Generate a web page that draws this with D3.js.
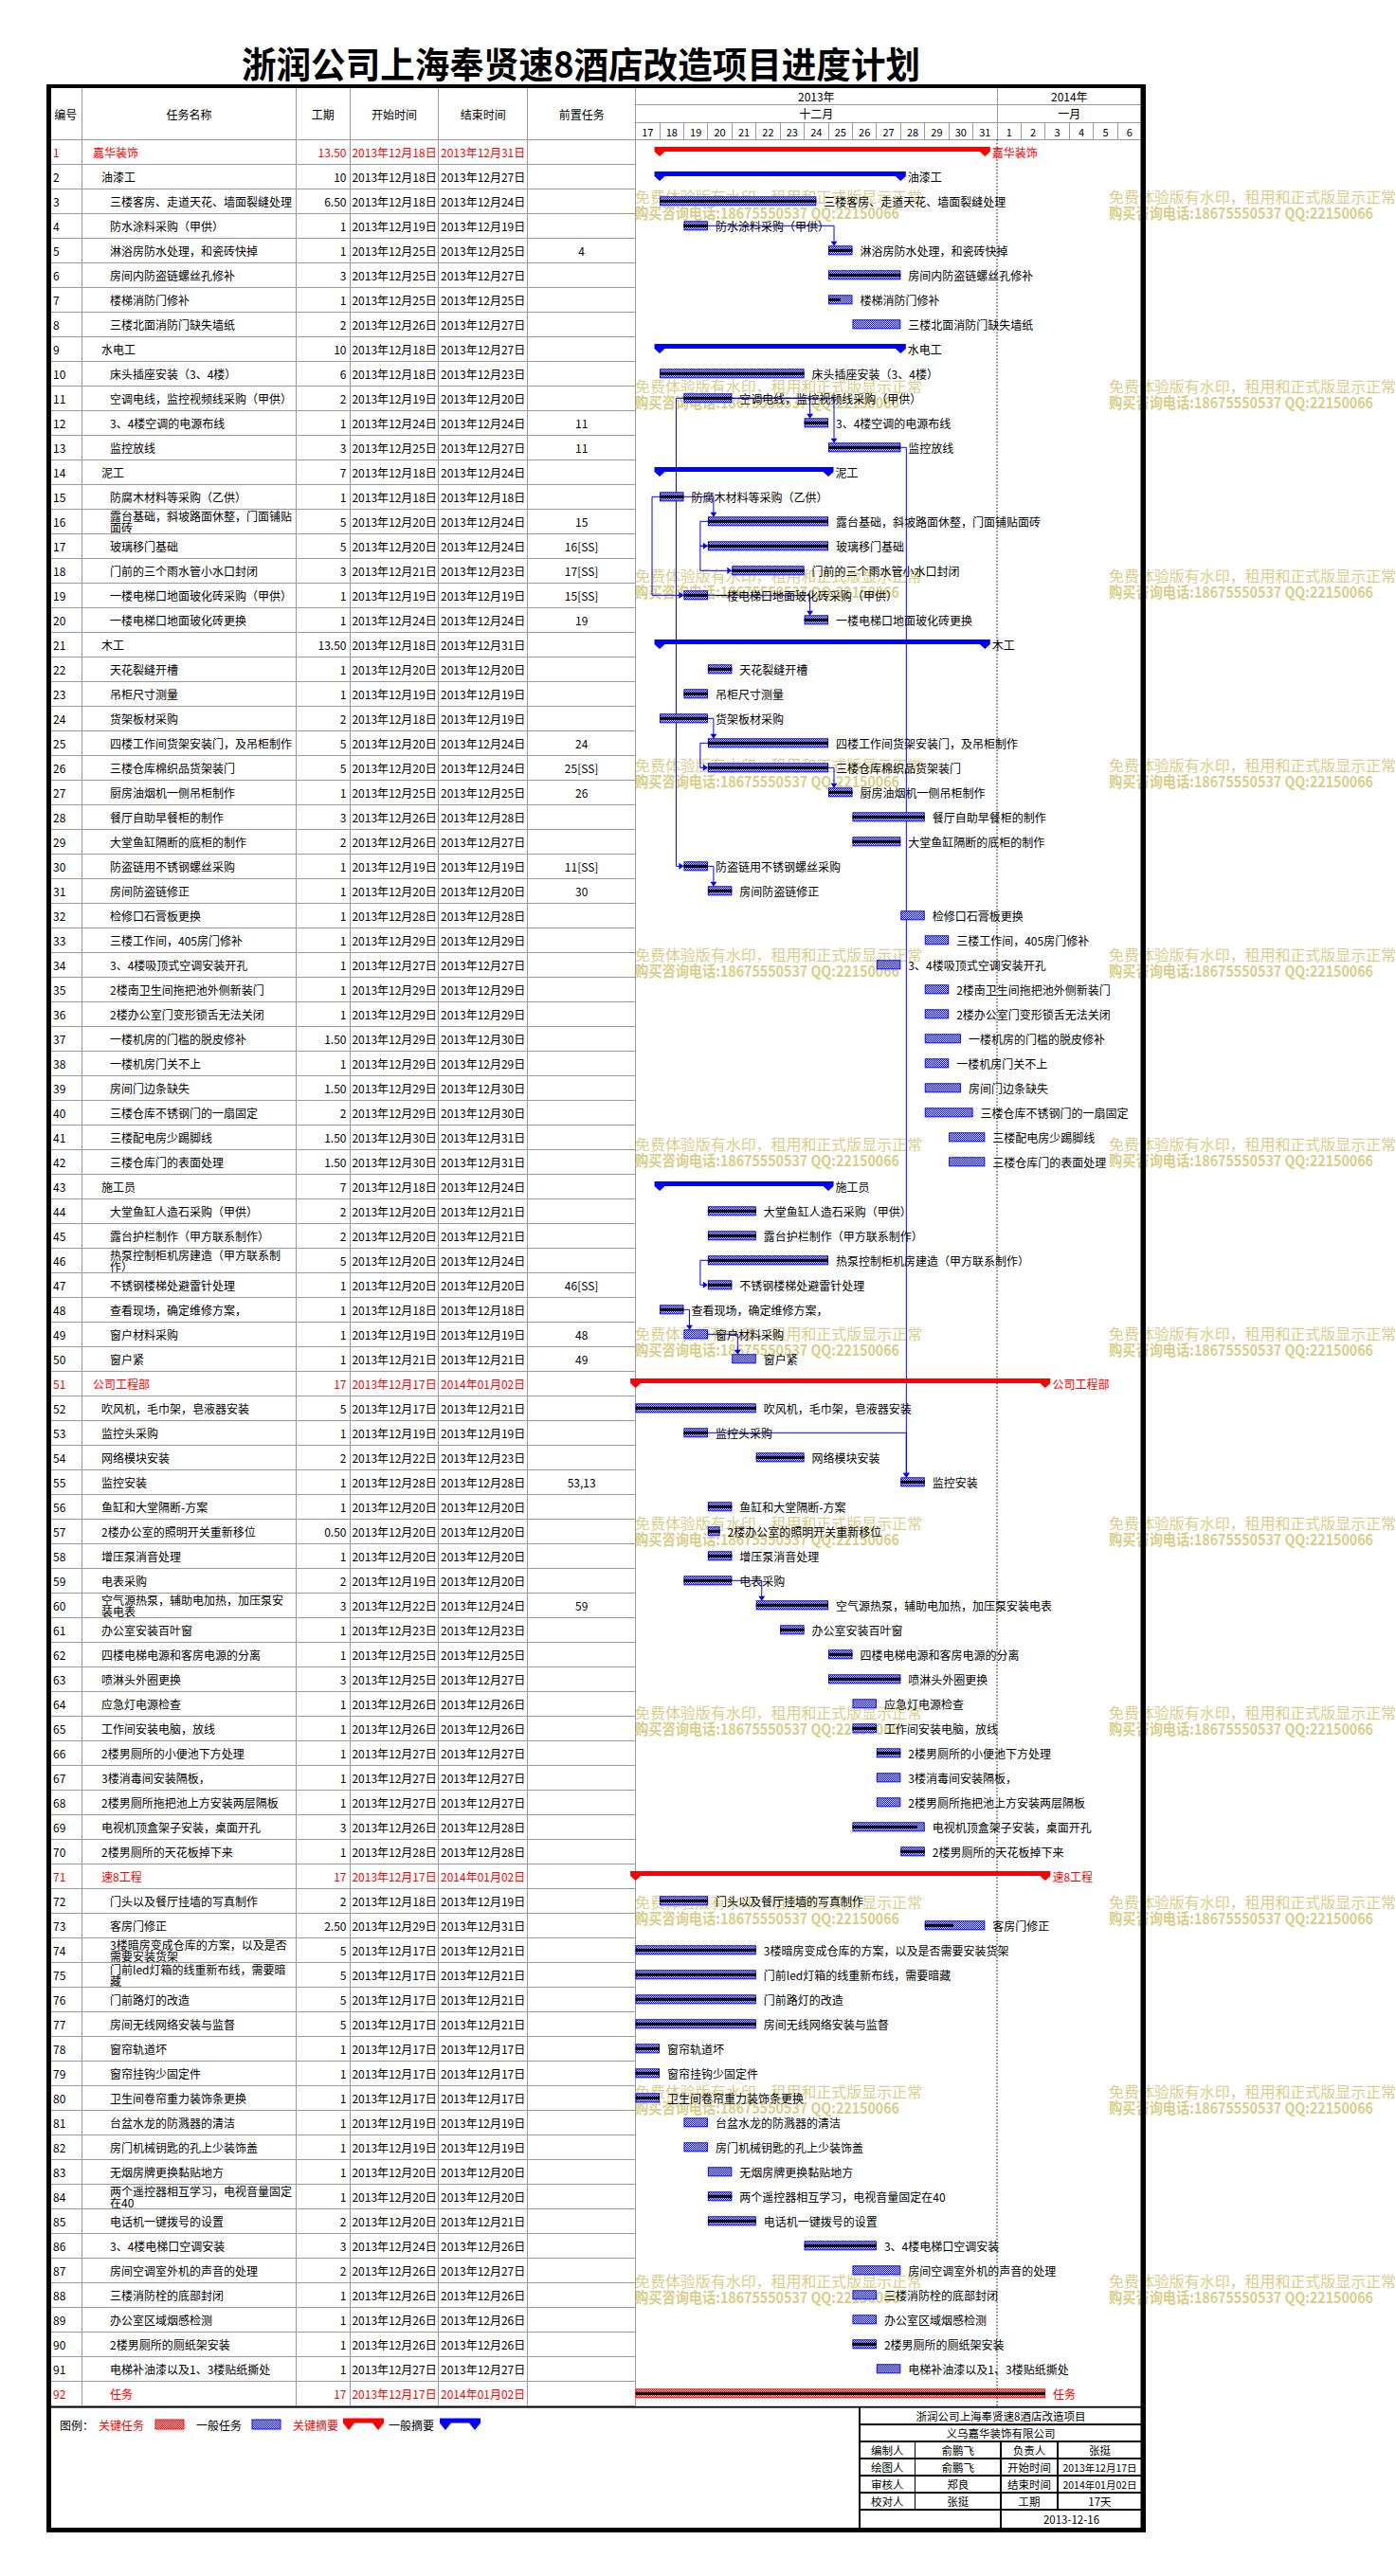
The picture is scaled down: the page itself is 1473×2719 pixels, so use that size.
<!DOCTYPE html>
<html><head><meta charset="utf-8">
<script src="https://cdn.jsdelivr.net/npm/d3@7"></script>
<style>
body{margin:0;background:#fff}
svg{display:block}
text{font-family:"Noto Sans CJK SC","Noto Sans",sans-serif}
</style>
</head><body>
<svg id="c" width="1473" height="2719"></svg>
<script>
// ---------------- DATA ----------------
const chartTitle = "浙润公司上海奉贤速8酒店改造项目进度计划";
const taskNames = [
"嘉华装饰","油漆工","三楼客房、走道天花、墙面裂缝处理","防水涂料采购（甲供）","淋浴房防水处理，和瓷砖快掉",
"房间内防盗链螺丝孔修补","楼梯消防门修补","三楼北面消防门缺失墙纸","水电工","床头插座安装（3、4楼）",
"空调电线，监控视频线采购（甲供）","3、4楼空调的电源布线","监控放线","泥工","防腐木材料等采购（乙供）",
"露台基础，斜坡路面休整，门面铺贴面砖","玻璃移门基础","门前的三个雨水管小水口封闭","一楼电梯口地面玻化砖采购（甲供）","一楼电梯口地面玻化砖更换",
"木工","天花裂缝开槽","吊柜尺寸测量","货架板材采购","四楼工作间货架安装门，及吊柜制作",
"三楼仓库棉织品货架装门","厨房油烟机一侧吊柜制作","餐厅自助早餐柜的制作","大堂鱼缸隔断的底柜的制作","防盗链用不锈钢螺丝采购",
"房间防盗链修正","检修口石膏板更换","三楼工作间，405房门修补","3、4楼吸顶式空调安装开孔","2楼南卫生间拖把池外侧新装门",
"2楼办公室门变形锁舌无法关闭","一楼机房的门槛的脱皮修补","一楼机房门关不上","房间门边条缺失","三楼仓库不锈钢门的一扇固定",
"三楼配电房少踢脚线","三楼仓库门的表面处理","施工员","大堂鱼缸人造石采购（甲供）","露台护栏制作（甲方联系制作）",
"热泵控制柜机房建造（甲方联系制作）","不锈钢楼梯处避雷针处理","查看现场，确定维修方案，","窗户材料采购","窗户紧",
"公司工程部","吹风机，毛巾架，皂液器安装","监控头采购","网络模块安装","监控安装",
"鱼缸和大堂隔断-方案","2楼办公室的照明开关重新移位","增压泵消音处理","电表采购","空气源热泵，辅助电加热，加压泵安装电表",
"办公室安装百叶窗","四楼电梯电源和客房电源的分离","喷淋头外圈更换","应急灯电源检查","工作间安装电脑，放线",
"2楼男厕所的小便池下方处理","3楼消毒间安装隔板，","2楼男厕所拖把池上方安装两层隔板","电视机顶盒架子安装，桌面开孔","2楼男厕所的天花板掉下来",
"速8工程","门头以及餐厅挂墙的写真制作","客房门修正","3楼暗房变成仓库的方案，以及是否需要安装货架","门前led灯箱的线重新布线，需要暗藏",
"门前路灯的改造","房间无线网络安装与监督","窗帘轨道坏","窗帘挂钩少固定件","卫生间卷帘重力装饰条更换",
"台盆水龙的防溅器的清洁","房门机械钥匙的孔上少装饰盖","无烟房牌更换黏贴地方","两个遥控器相互学习，电视音量固定在40","电话机一键拨号的设置",
"3、4楼电梯口空调安装","房间空调室外机的声音的处理","三楼消防栓的底部封闭","办公室区域烟感检测","2楼男厕所的厕纸架安装",
"电梯补油漆以及1、3楼贴纸撕处","任务"];
const outlineLevels = [1,2,3,3,3,3,3,3,2,3, 3,3,3,2,3,3,3,3,3,3, 2,3,3,3,3,3,3,3,3,3,
  3,3,3,3,3,3,3,3,3,3, 3,3,2,3,3,3,3,3,3,3, 1,2,2,2,2,2,2,2,2,2,
  2,2,2,2,2,2,2,2,2,2, 2,3,3,3,3,3,3,3,3,3, 3,3,3,3,3,3,3,3,3,3, 3,3];
const durations = [13.5,10,6.5,1,1,3,1,2,10,6, 2,1,3,7,1,5,5,3,1,1, 13.5,1,1,2,5,5,1,3,2,1,
  1,1,1,1,1,1,1.5,1,1.5,2, 1.5,1.5,7,2,2,5,1,1,1,1, 17,5,1,2,1,1,0.5,1,2,3,
  1,1,3,1,1,1,1,1,3,1, 17,2,2.5,5,5,5,5,1,1,1, 1,1,1,1,2,3,2,1,1,1, 1,17];
const startDates = ["2013-12-18","2013-12-18","2013-12-18","2013-12-19","2013-12-25","2013-12-25","2013-12-25","2013-12-26","2013-12-18","2013-12-18",
 "2013-12-19","2013-12-24","2013-12-25","2013-12-18","2013-12-18","2013-12-20","2013-12-20","2013-12-21","2013-12-19","2013-12-24",
 "2013-12-18","2013-12-20","2013-12-19","2013-12-18","2013-12-20","2013-12-20","2013-12-25","2013-12-26","2013-12-26","2013-12-19",
 "2013-12-20","2013-12-28","2013-12-29","2013-12-27","2013-12-29","2013-12-29","2013-12-29","2013-12-29","2013-12-29","2013-12-29",
 "2013-12-30","2013-12-30","2013-12-18","2013-12-20","2013-12-20","2013-12-20","2013-12-20","2013-12-18","2013-12-19","2013-12-21",
 "2013-12-17","2013-12-17","2013-12-19","2013-12-22","2013-12-28","2013-12-20","2013-12-20","2013-12-20","2013-12-19","2013-12-22",
 "2013-12-23","2013-12-25","2013-12-25","2013-12-26","2013-12-26","2013-12-27","2013-12-27","2013-12-27","2013-12-26","2013-12-28",
 "2013-12-17","2013-12-18","2013-12-29","2013-12-17","2013-12-17","2013-12-17","2013-12-17","2013-12-17","2013-12-17","2013-12-17",
 "2013-12-19","2013-12-19","2013-12-20","2013-12-20","2013-12-20","2013-12-24","2013-12-26","2013-12-26","2013-12-26","2013-12-26",
 "2013-12-27","2013-12-17"];
const endDates = ["2013-12-31","2013-12-27","2013-12-24","2013-12-19","2013-12-25","2013-12-27","2013-12-25","2013-12-27","2013-12-27","2013-12-23",
 "2013-12-20","2013-12-24","2013-12-27","2013-12-24","2013-12-18","2013-12-24","2013-12-24","2013-12-23","2013-12-19","2013-12-24",
 "2013-12-31","2013-12-20","2013-12-19","2013-12-19","2013-12-24","2013-12-24","2013-12-25","2013-12-28","2013-12-27","2013-12-19",
 "2013-12-20","2013-12-28","2013-12-29","2013-12-27","2013-12-29","2013-12-29","2013-12-30","2013-12-29","2013-12-30","2013-12-30",
 "2013-12-31","2013-12-31","2013-12-24","2013-12-21","2013-12-21","2013-12-24","2013-12-20","2013-12-18","2013-12-19","2013-12-21",
 "2014-01-02","2013-12-21","2013-12-19","2013-12-23","2013-12-28","2013-12-20","2013-12-20","2013-12-20","2013-12-20","2013-12-24",
 "2013-12-23","2013-12-25","2013-12-27","2013-12-26","2013-12-26","2013-12-27","2013-12-27","2013-12-27","2013-12-28","2013-12-28",
 "2014-01-02","2013-12-19","2013-12-31","2013-12-21","2013-12-21","2013-12-21","2013-12-21","2013-12-17","2013-12-17","2013-12-17",
 "2013-12-19","2013-12-19","2013-12-20","2013-12-20","2013-12-21","2013-12-26","2013-12-27","2013-12-26","2013-12-26","2013-12-26",
 "2013-12-27","2014-01-02"];
// predecessor column text, keyed by row number
const predecessors = {5:"4",12:"11",13:"11",16:"15",17:"16[SS]",18:"17[SS]",19:"15[SS]",20:"19",25:"24",26:"25[SS]",
  27:"26",30:"11[SS]",31:"30",47:"46[SS]",49:"48",50:"49",55:"53,13",60:"59"};
const summaryRows = [2,9,14,21,43];
const criticalSummaryRows = [1,51,71];
const criticalTaskRows = [92];
const percentDone = [0,0,1,1,1,1,0.5,0,0,1, 1,1,1,0,1,1,1,1,1,1, 0,1,1,1,1,1,1,1,1,1,
  1,0,0,0,0,0,0,0,0,0, 0,0,0,1,1,1,1,1,0,0, 0,1,1,1,1,1,1,1,1,1,
  1,1,1,0,1,1,0,0,0.9,1, 0,1,0.48,1,1,1,1,1,1,1, 0,0,0,1,1,1,0,0,0,1, 0,1];
const headerCols = ["编号","任务名称","工期","开始时间","结束时间","前置任务"];
const yearLabels = [{label:"2013年",from:"2013-12-17",to:"2014-01-01"},{label:"2014年",from:"2014-01-01",to:"2014-01-07"}];
const monthLabels = [{label:"十二月",from:"2013-12-17",to:"2014-01-01"},{label:"一月",from:"2014-01-01",to:"2014-01-07"}];
const dayLabels = ["17","18","19","20","21","22","23","24","25","26","27","28","29","30","31","1","2","3","4","5","6"];
const statusDate = "2014-01-01";
const legendItems = [
  {label:"关键任务",color:"#ff0000",kind:"task",pat:"hr"},
  {label:"一般任务",color:"#000000",kind:"task",pat:"hb"},
  {label:"关键摘要",color:"#ff0000",kind:"sum",fill:"#ff0000"},
  {label:"一般摘要",color:"#000000",kind:"sum",fill:"#0000ff"}];
const infoTitle = "浙润公司上海奉贤速8酒店改造项目";
const infoCompany = "义乌嘉华装饰有限公司";
const infoRows = [["编制人","俞鹏飞","负责人","张挺"],["绘图人","俞鹏飞","开始时间","2013年12月17日"],
  ["审核人","郑良","结束时间","2014年01月02日"],["校对人","张挺","工期","17天"]];
const infoDate = "2013-12-16";
const watermarkLines = ["免费体验版有水印，租用和正式版显示正常","购买咨询电话:18675550537 QQ:22150066"];

// ---------------- LAYOUT ----------------
const svg = d3.select("#c");
const parse = d3.timeParse("%Y-%m-%d");
const fmt = d3.timeFormat("%Y年%m月%d日");
const ids = d3.range(1, taskNames.length + 1);
const colX = [52, 86.7, 312.2, 369.5, 462.6, 556.7, 670.6];
const gRight = 1204.6;
const headTop = 92.7, headBot = 147.3, rowH = 26;
const tableBot = headBot + ids.length * rowH;
const x = d3.scaleTime().domain([parse("2013-12-17"), parse("2014-01-07")]).range([colX[6], gRight]);
const y = d3.scaleBand().domain(ids).range([headBot, tableBot]);
const rc = id => y(id) + y.bandwidth() / 2;
const gridC = "#9a9a9a";
const tasks = ids.map(i => {
  const s = parse(startDates[i-1]);
  return {id:i, name:taskNames[i-1], lvl:outlineLevels[i-1], dur:durations[i-1], start:s,
    finish:d3.timeMinute.offset(s, Math.round(durations[i-1]*24*60)), end:parse(endDates[i-1]),
    pred:predecessors[i]||"", pct:percentDone[i-1],
    kind: criticalSummaryRows.includes(i)?"cs":summaryRows.includes(i)?"s":criticalTaskRows.includes(i)?"ct":"t"};
});
const isRed = t => t.kind==="cs"||t.kind==="ct";

const defs = svg.append("defs");
function hatch(id, color){
  const p = defs.append("pattern").attr("id",id).attr("width",2).attr("height",2).attr("patternUnits","userSpaceOnUse");
  p.append("rect").attr("width",2).attr("height",2).attr("fill","#fff");
  p.append("rect").attr("width",1).attr("height",1).attr("fill",color);
  p.append("rect").attr("x",1).attr("y",1).attr("width",1).attr("height",1).attr("fill",color);
}
hatch("hb","#0000ff"); hatch("hr","#ff0000");

// title
svg.append("text").attr("x",613).attr("y",82).attr("text-anchor","middle")
  .attr("font-size",38).attr("font-weight","bold").attr("textLength",716).attr("lengthAdjust","spacingAndGlyphs")
  .text(chartTitle);

// watermark (below marks)
const wm = svg.append("g").attr("fill","#d8cf8a");
d3.range(12).forEach(k => {
  [670, 1170].forEach(x0 => {
    const y0 = 200 + 200*k;
    wm.append("text").attr("x",x0).attr("y",y0+14).attr("font-size",16).attr("textLength",303).attr("lengthAdjust","spacingAndGlyphs").text(watermarkLines[0]);
    wm.append("text").attr("x",x0).attr("y",y0+31).attr("font-size",16).attr("font-weight","bold").attr("textLength",279).attr("lengthAdjust","spacingAndGlyphs").text(watermarkLines[1]);
  });
});

// grid
const grid = svg.append("g").attr("stroke",gridC).attr("stroke-width",1).attr("shape-rendering","crispEdges");
colX.slice(1).forEach(cx => grid.append("line").attr("x1",cx).attr("x2",cx).attr("y1",headTop).attr("y2",tableBot));
ids.forEach(i => grid.append("line").attr("x1",colX[0]).attr("x2",colX[6]).attr("y1",y(i)+rowH).attr("y2",y(i)+rowH));
grid.append("line").attr("x1",colX[0]).attr("x2",gRight).attr("y1",headBot).attr("y2",headBot);
grid.append("line").attr("x1",colX[6]).attr("x2",gRight).attr("y1",110).attr("y2",110);
grid.append("line").attr("x1",colX[6]).attr("x2",gRight).attr("y1",129).attr("y2",129);
grid.append("line").attr("x1",x(parse("2014-01-01"))).attr("x2",x(parse("2014-01-01"))).attr("y1",headTop).attr("y2",headBot);
const dayDates = d3.timeDay.range(parse("2013-12-17"), parse("2014-01-07"));
dayDates.slice(1).forEach(d => grid.append("line").attr("x1",x(d)).attr("x2",x(d)).attr("y1",129).attr("y2",headBot));

// header texts
const hdr = svg.append("g").attr("font-size",12).attr("text-anchor","middle").attr("dominant-baseline","central");
headerCols.forEach((h,i) => hdr.append("text").attr("x",(colX[i]+colX[i+1])/2).attr("y",120).text(h));
yearLabels.forEach(d => hdr.append("text").attr("x",(x(parse(d.from))+x(parse(d.to)))/2).attr("y",101.5).text(d.label));
monthLabels.forEach(d => hdr.append("text").attr("x",(x(parse(d.from))+x(parse(d.to)))/2).attr("y",119.5).text(d.label));
const dayW = x(dayDates[1]) - x(dayDates[0]);
dayDates.forEach((d,i) => hdr.append("text").attr("x",x(d)+dayW/2).attr("y",138.5).attr("font-size",11).text(dayLabels[i]));

// table rows
const tbl = svg.append("g").attr("font-size",12).attr("dominant-baseline","central");
const closing = "）)，、。";
const cw = ch => ch.charCodeAt(0) < 256 ? 0.5 : 1;
function wrapName(name){
  const lines = []; let line = "", acc = 0;
  for (const ch of name) {
    if (acc + cw(ch) > 16 && line) { lines.push(line); line = ch; acc = cw(ch); }
    else { line += ch; acc += cw(ch); }
  }
  lines.push(line);
  for (let k = 1; k < lines.length; k++) {
    if (closing.includes(lines[k][0])) { lines[k] = lines[k-1].slice(-1) + lines[k]; lines[k-1] = lines[k-1].slice(0,-1); }
  }
  return lines;
}
tasks.forEach(t => {
  const c = rc(t.id), col = isRed(t) ? "#ff0000" : "#000";
  tbl.append("text").attr("x",56).attr("y",c).attr("fill",col).text(t.id);
  const nx = 98 + (t.lvl-1)*9;
  const lines = wrapName(t.name);
  const nt = tbl.append("text").attr("x",nx).attr("y",c).attr("fill",col);
  if (lines.length === 1) nt.text(t.name);
  else lines.forEach((l,k) => nt.append("tspan").attr("x",nx).attr("y",c + (k-(lines.length-1)/2)*12 - 0.5).text(l));
  tbl.append("text").attr("x",365.5).attr("y",c).attr("text-anchor","end").attr("fill",col)
    .text(Number.isInteger(t.dur) ? t.dur : t.dur.toFixed(2));
  tbl.append("text").attr("x",(colX[3]+colX[4])/2).attr("y",c).attr("text-anchor","middle").attr("fill",col).text(fmt(t.start));
  tbl.append("text").attr("x",(colX[4]+colX[5])/2).attr("y",c).attr("text-anchor","middle").attr("fill",col).text(fmt(t.end));
  if (t.pred) tbl.append("text").attr("x",(colX[5]+colX[6])/2).attr("y",c).attr("text-anchor","middle").text(t.pred);
});

// status date dotted line
const sx = x(parse(statusDate));
svg.append("line").attr("x1",sx).attr("x2",sx).attr("y1",headBot).attr("y2",tableBot+1)
  .attr("stroke","#000").attr("stroke-dasharray","1.5,2");

// dependency links
const lk = svg.append("g").attr("stroke","#0000ff").attr("fill","none").attr("stroke-width",1);
const ah = svg.append("g").attr("fill","#0000ff");
const byId = new Map(tasks.map(t => [t.id,t]));
tasks.forEach(t => {
  if (!t.pred) return;
  t.pred.split(",").forEach(p => {
    const ss = p.includes("[SS]");
    const pt = byId.get(+p.replace("[SS]",""));
    const py = rc(pt.id), sy = rc(t.id);
    if (ss) {
      const xs = x(t.start), xl = Math.min(x(pt.start), xs) - 8;
      lk.append("path").attr("d",`M${x(pt.start)},${py}H${xl}V${sy}H${xs-4}`);
      ah.append("path").attr("d",`M${xs},${sy}L${xs-5},${sy-3.5}L${xs-5},${sy+3.5}Z`);
    } else {
      const xt = x(t.start) + 6, top = sy - 4.5;
      lk.append("path").attr("d",`M${x(pt.finish)},${py}H${xt}V${top-4}`);
      ah.append("path").attr("d",`M${xt},${top}L${xt-3.5},${top-5}L${xt+3.5},${top-5}Z`);
    }
  });
});

// bars
const bars = svg.append("g");
function sumPath(x0, x1, c){
  const t = c - 5.3, b = c - 0.3, tip = c + 4.7, e = 5.5;
  return `M${x0-e},${t}H${x1+e}V${b}L${x1},${tip}L${x1-e},${b}H${x0+e}L${x0},${tip}L${x0-e},${b}Z`;
}
tasks.forEach(t => {
  const c = rc(t.id), x0 = x(t.start), x1 = x(t.finish);
  const red = isRed(t);
  if (t.kind==="cs" || t.kind==="s") {
    bars.append("path").attr("d",sumPath(x0,x1,c)).attr("fill", red?"#ff0000":"#0000ff");
    bars.append("text").attr("x",x1+7.5).attr("y",c).attr("dominant-baseline","central").attr("font-size",12)
      .attr("fill", red?"#ff0000":"#000").text(t.name);
  } else {
    bars.append("rect").attr("x",x0+0.5).attr("y",c-4.5).attr("width",Math.max(1,x1-x0-1)).attr("height",9)
      .attr("fill", red?"url(#hr)":"url(#hb)").attr("stroke", red?"#ff0000":"#0000ff").attr("stroke-width",1);
    if (t.pct > 0) bars.append("rect").attr("x",x0).attr("y",c-1.6).attr("width",(x1-x0)*t.pct).attr("height",3.2).attr("fill","#000");
    bars.append("text").attr("x",x1+8).attr("y",c).attr("dominant-baseline","central").attr("font-size",12)
      .attr("fill", red?"#ff0000":"#000").text(t.name);
  }
});

// bottom separator
svg.append("rect").attr("x",52).attr("y",tableBot+0.5).attr("width",gRight-52).attr("height",1.8).attr("fill","#000");

// legend
const lg = svg.append("g").attr("font-size",12).attr("dominant-baseline","central");
const ly = 2559;
lg.append("text").attr("x",63).attr("y",ly).text("图例：");
const legX = [{t:104,s:164},{t:207,s:266},{t:309,s:362},{t:410,s:464}];
legendItems.forEach((d,i) => {
  lg.append("text").attr("x",legX[i].t).attr("y",ly).attr("fill",d.color).text(d.label);
  if (d.kind==="task") {
    lg.append("rect").attr("x",legX[i].s).attr("y",ly-5).attr("width",30).attr("height",10)
      .attr("fill",`url(#${d.pat})`).attr("stroke", d.pat==="hr"?"#ff0000":"#0000ff");
  } else {
    const a = legX[i].s, b = a + 43, t0 = ly-6.5, t1 = ly-1.5, tip = ly+6;
    lg.append("path").attr("d",`M${a},${t0}H${b}V${t1}L${b-6},${tip}L${b-12},${t1}H${a+12}L${a+6},${tip}L${a},${t1}Z`).attr("fill",d.fill);
  }
});

// info box
const ib = svg.append("g").attr("font-size",11.5).attr("text-anchor","middle").attr("dominant-baseline","central");
const bx = [907, 965.5, 1056, 1116, 1205];
const byv = [2541, 2559, 2577, 2595, 2613, 2631, 2649, 2668];
const lines = svg.append("g").attr("stroke","#000").attr("stroke-width",1.2).attr("shape-rendering","crispEdges");
lines.append("line").attr("x1",bx[0]).attr("x2",bx[0]).attr("y1",byv[0]).attr("y2",byv[7]);
byv.slice(1,7).forEach(v => lines.append("line").attr("x1",bx[0]).attr("x2",bx[4]).attr("y1",v).attr("y2",v));
[1,3].forEach(k => lines.append("line").attr("x1",bx[k]).attr("x2",bx[k]).attr("y1",byv[2]).attr("y2",byv[6]));
lines.append("line").attr("x1",bx[2]).attr("x2",bx[2]).attr("y1",byv[2]).attr("y2",byv[7]);
ib.append("text").attr("x",(bx[0]+bx[4])/2).attr("y",(byv[0]+byv[1])/2).text(infoTitle);
ib.append("text").attr("x",(bx[0]+bx[4])/2).attr("y",(byv[1]+byv[2])/2).text(infoCompany);
infoRows.forEach((r,ri) => r.forEach((v,ci) => ib.append("text").attr("x",(bx[ci]+bx[ci+1])/2).attr("y",(byv[ri+2]+byv[ri+3])/2)
  .attr("font-size", v.length>8?10.5:11.5).text(v)));
ib.append("text").attr("x",(bx[2]+bx[4])/2).attr("y",(byv[6]+byv[7])/2).text(infoDate);

// outer border
const bd = svg.append("g").attr("fill","#000");
bd.append("rect").attr("x",49).attr("y",89).attr("width",1160).attr("height",4);
bd.append("rect").attr("x",49).attr("y",89).attr("width",5).attr("height",2584);
bd.append("rect").attr("x",1203.5).attr("y",89).attr("width",5.5).attr("height",2584);
bd.append("rect").attr("x",49).attr("y",2668).attr("width",1160).attr("height",5);
</script>
</body></html>
